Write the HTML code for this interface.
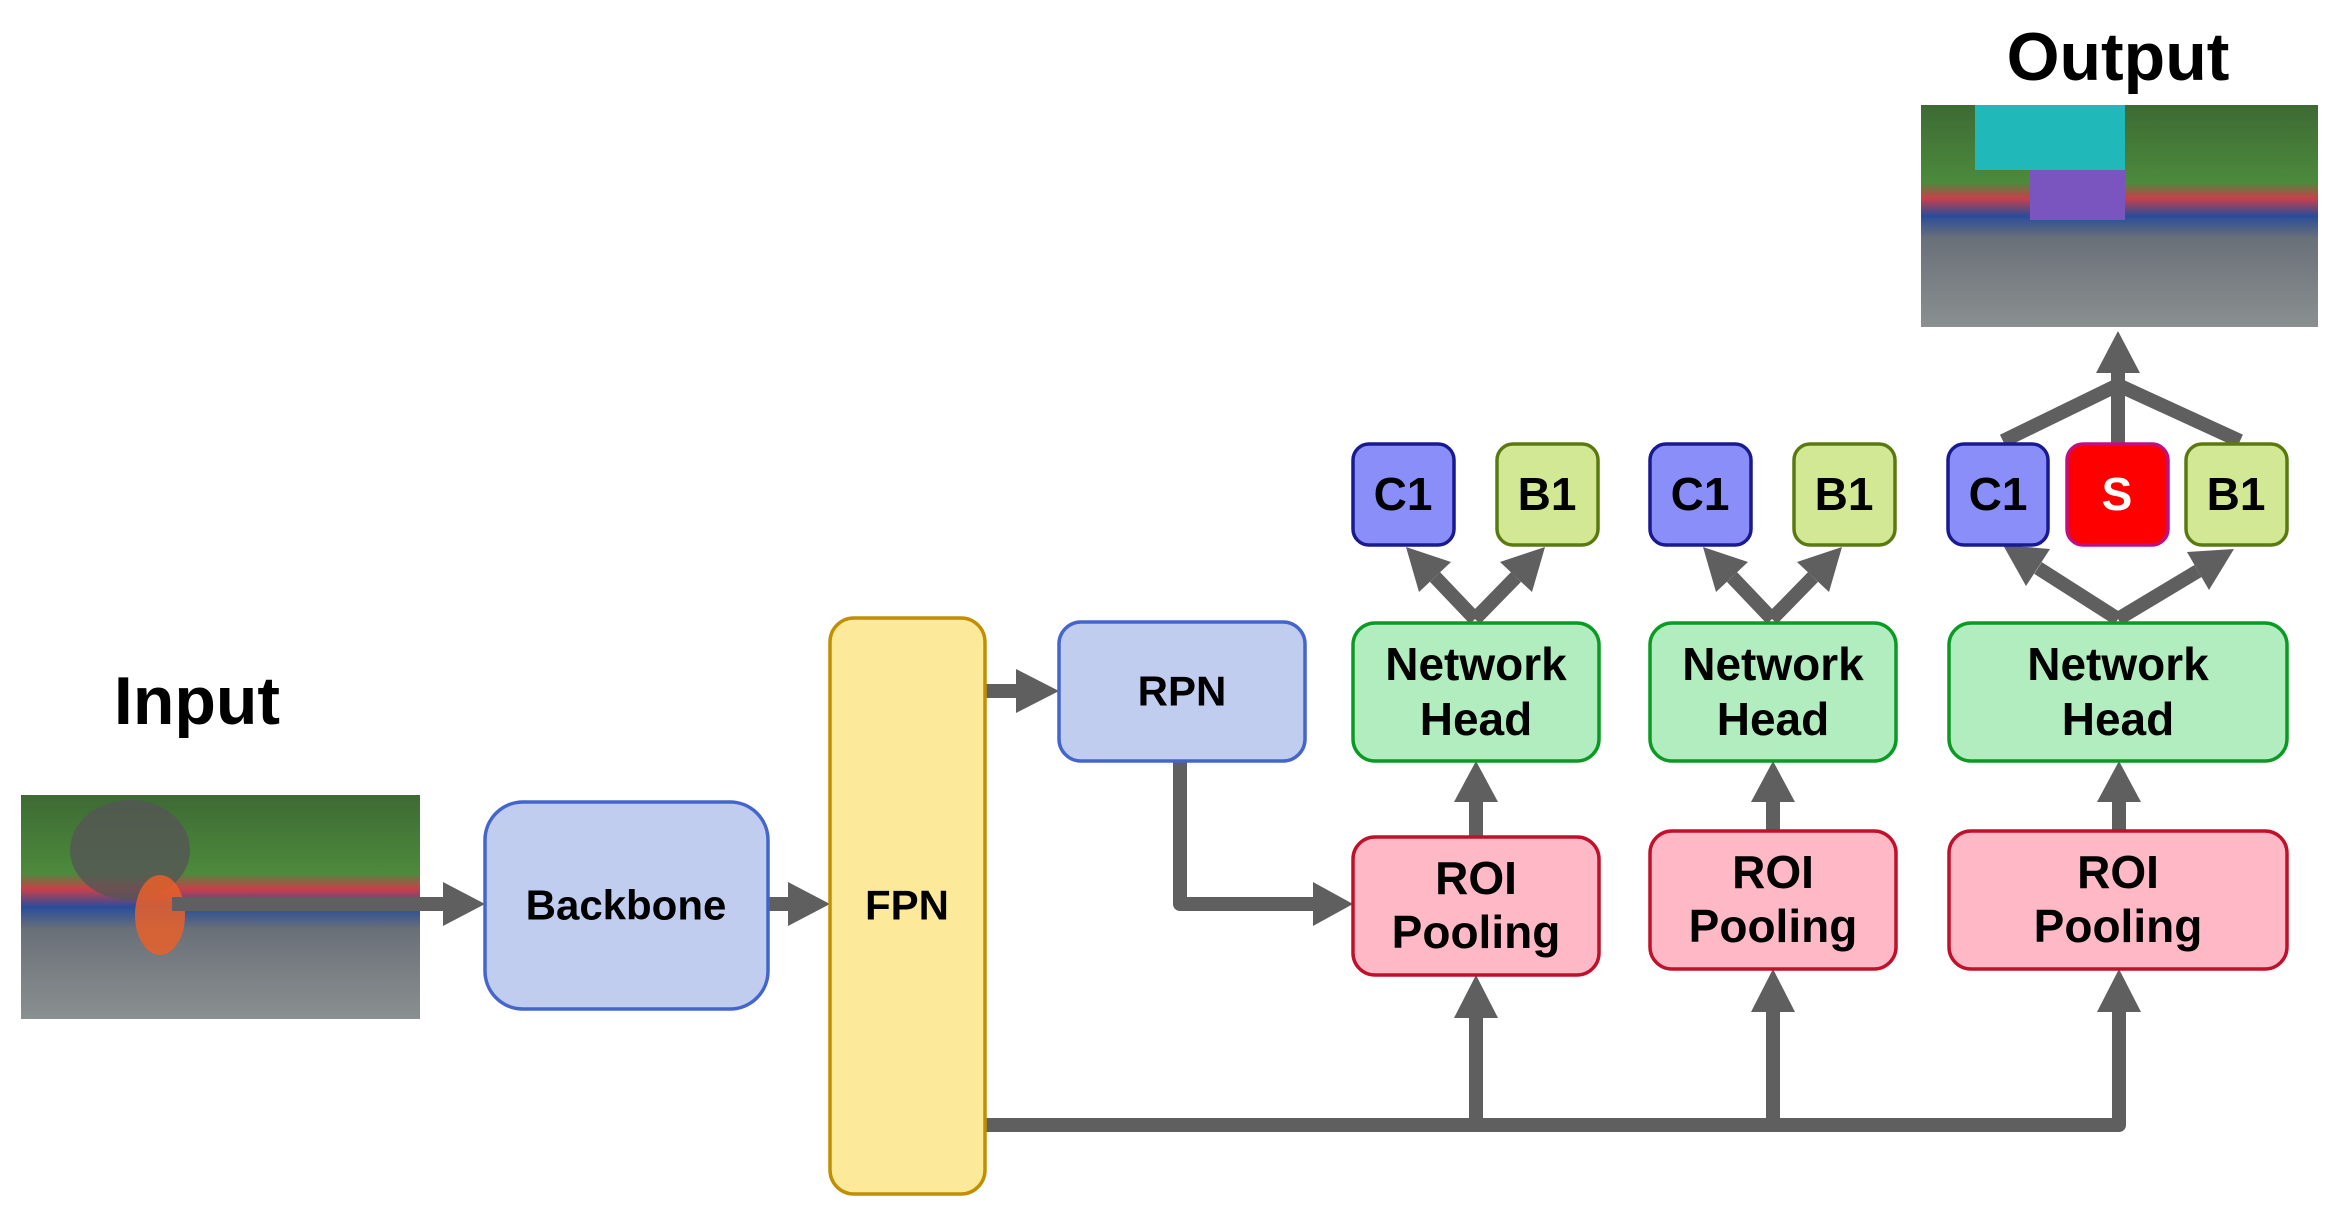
<!DOCTYPE html>
<html><head><meta charset="utf-8"><style>
html,body{margin:0;padding:0;background:#fff;}
svg{display:block;}
text{font-family:"Liberation Sans","DejaVu Sans",sans-serif;font-weight:bold;fill:#000;text-anchor:middle;dominant-baseline:central;}
</style></head><body>
<svg width="2338" height="1220" viewBox="0 0 2338 1220" xmlns="http://www.w3.org/2000/svg">
<defs>
<linearGradient id="sky" x1="0" y1="0" x2="0" y2="1">
<stop offset="0" stop-color="#3e6a34"/><stop offset="0.35" stop-color="#4c8a3c"/><stop offset="0.42" stop-color="#c8404a"/><stop offset="0.5" stop-color="#2a4c9a"/><stop offset="0.6" stop-color="#6a7078"/><stop offset="1" stop-color="#8a9090"/></linearGradient>
</defs>
<text x="197" y="701" style="font-size:68px">Input</text>
<text x="2118" y="57" style="font-size:68px">Output</text>
<rect x="21" y="795" width="399" height="224" fill="url(#sky)"/>
<ellipse cx="130" cy="850" rx="60" ry="50" fill="#555" opacity="0.8"/>
<ellipse cx="160" cy="915" rx="25" ry="40" fill="#e8602a" opacity="0.85"/>
<rect x="1921" y="105" width="397" height="222" fill="url(#sky)"/>
<rect x="1975" y="105" width="150" height="65" fill="#20b8b8"/>
<rect x="2030" y="170" width="95" height="50" fill="#7a55c0"/>
<g stroke="#5f5f5f" stroke-width="14" fill="none" stroke-linejoin="round">
<line x1="172" y1="904" x2="445" y2="904"/>
<line x1="768" y1="904" x2="790" y2="904"/>
<line x1="985" y1="691" x2="1018" y2="691"/>
<polyline points="1180,761 1180,904 1315,904"/>
<polyline points="985,1125 2119,1125 2119,1010"/>
<line x1="1476" y1="1125" x2="1476" y2="1016"/>
<line x1="1773" y1="1125" x2="1773" y2="1010"/>
<line x1="1476" y1="837" x2="1476" y2="800"/>
<line x1="1773" y1="831" x2="1773" y2="800"/>
<line x1="2119" y1="831" x2="2119" y2="800"/>
<line x1="1475" y1="619" x2="1435" y2="577"/>
<line x1="1475" y1="619" x2="1516" y2="577"/>
<line x1="1772" y1="619" x2="1732" y2="577"/>
<line x1="1772" y1="619" x2="1813" y2="577"/>
<line x1="2118" y1="619" x2="2038" y2="568"/>
<line x1="2118" y1="619" x2="2198" y2="571"/>
<polyline points="2003,441 2118,385 2240,441"/>
<line x1="2118" y1="444" x2="2118" y2="370"/>
</g>
<g fill="#5f5f5f">
<polygon points="443,882 485,904 443,926"/>
<polygon points="788,882 830,904 788,926"/>
<polygon points="1016,669 1059,691 1016,713"/>
<polygon points="1313,882 1353,904 1313,926"/>
<polygon points="1454,1018 1476,975 1498,1018"/>
<polygon points="1751,1012 1773,969 1795,1012"/>
<polygon points="2097,1012 2119,969 2141,1012"/>
<polygon points="1454,802 1476,761 1498,802"/>
<polygon points="1751,802 1773,761 1795,802"/>
<polygon points="2097,802 2119,761 2141,802"/>
<polygon points="1406,547 1451,562 1419,592"/>
<polygon points="1545,547 1532,592 1500,562"/>
<polygon points="1703,547 1748,562 1716,592"/>
<polygon points="1842,547 1829,592 1797,562"/>
<polygon points="2003,545 2050,549 2026,586"/>
<polygon points="2234,549 2209,590 2187,552"/>
<polygon points="2096,373 2118,331 2140,373"/>
</g>
<g stroke-width="3.5">
<rect x="485" y="802" width="283" height="207" rx="38" fill="#c0cdee" stroke="#4466cc"/>
<rect x="830" y="618" width="155" height="576" rx="24" fill="#fde99a" stroke="#c09000"/>
<rect x="1059" y="622" width="246" height="139" rx="22" fill="#c0cdee" stroke="#4466cc"/>
<rect x="1353" y="623" width="246" height="138" rx="22" fill="#b1edbe" stroke="#0b9a24"/>
<rect x="1650" y="623" width="246" height="138" rx="22" fill="#b1edbe" stroke="#0b9a24"/>
<rect x="1949" y="623" width="338" height="138" rx="22" fill="#b1edbe" stroke="#0b9a24"/>
<rect x="1353" y="837" width="246" height="138" rx="22" fill="#feb8c6" stroke="#c0102a"/>
<rect x="1650" y="831" width="246" height="138" rx="22" fill="#feb8c6" stroke="#c0102a"/>
<rect x="1949" y="831" width="338" height="138" rx="22" fill="#feb8c6" stroke="#c0102a"/>
<rect x="1353" y="444" width="101" height="101" rx="16" fill="#8a8ef8" stroke="#1a1a90"/>
<rect x="1497" y="444" width="101" height="101" rx="16" fill="#d3e894" stroke="#5a7a10"/>
<rect x="1650" y="444" width="101" height="101" rx="16" fill="#8a8ef8" stroke="#1a1a90"/>
<rect x="1794" y="444" width="101" height="101" rx="16" fill="#d3e894" stroke="#5a7a10"/>
<rect x="1948" y="444" width="100" height="101" rx="16" fill="#8a8ef8" stroke="#1a1a90"/>
<rect x="2067" y="444" width="101" height="101" rx="16" fill="#fe0000" stroke="#c01080"/>
<rect x="2186" y="444" width="101" height="101" rx="16" fill="#d3e894" stroke="#5a7a10"/>
</g>
<g style="font-size:42px">
<text x="626" y="905">Backbone</text>
<text x="907" y="905">FPN</text>
<text x="1182" y="691">RPN</text>
</g>
<g style="font-size:46px">
<text x="1476" y="664">Network</text><text x="1476" y="719">Head</text>
<text x="1773" y="664">Network</text><text x="1773" y="719">Head</text>
<text x="2118" y="664">Network</text><text x="2118" y="719">Head</text>
<text x="1476" y="878">ROI</text><text x="1476" y="932">Pooling</text>
<text x="1773" y="872">ROI</text><text x="1773" y="926">Pooling</text>
<text x="2118" y="872">ROI</text><text x="2118" y="926">Pooling</text>
<text x="1403" y="494">C1</text><text x="1547" y="494">B1</text>
<text x="1700" y="494">C1</text><text x="1844" y="494">B1</text>
<text x="1998" y="494">C1</text><text x="2117" y="494" style="fill:#fff">S</text><text x="2236" y="494">B1</text>
</g>
</svg>
</body></html>
